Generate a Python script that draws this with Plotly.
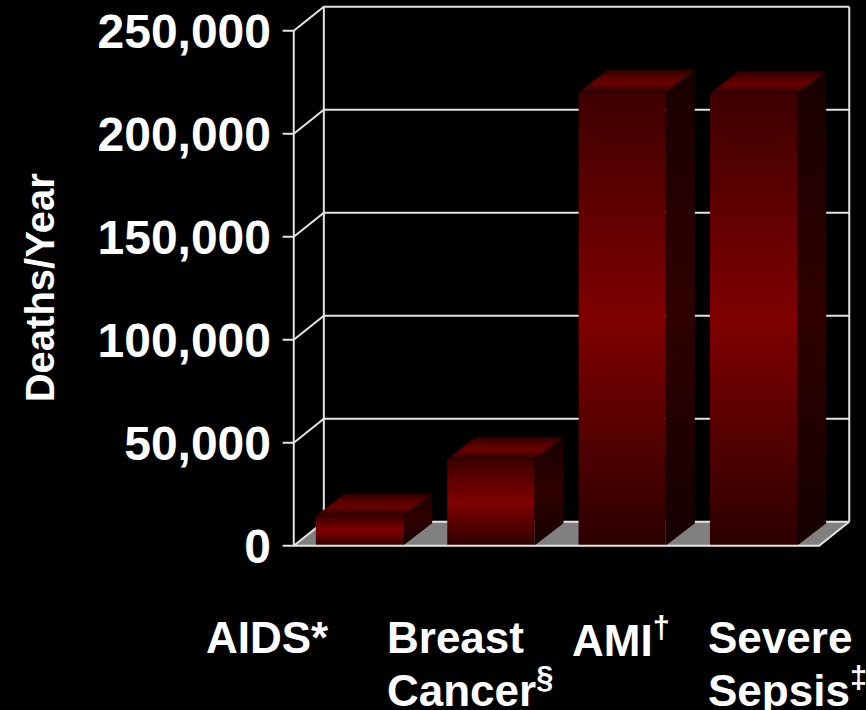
import plotly.graph_objects as go

# ---------------- data ----------------
categories = ["AIDS*", "Breast<br>Cancer<sup>§</sup>", "AMI<sup>†</sup>", "Severe<br>Sepsis<sup>‡</sup>"]
deaths_per_year = [14500, 42000, 220000, 219500]
y_ticks = [0, 50000, 100000, 150000, 200000, 250000]
y_title = "Deaths/Year"

# ---------------- style ----------------
FONT = "Arial, Liberation Sans, sans-serif"
GRID = "#e2e2e2"
FLOOR = "#808080"
WALL_DX = 0.229      # depth of the walls, in category units
WALL_DY = 11650      # depth of the walls, in value units
BAR_DX = 0.222
BAR_DY = 10900
BAR_W = 0.663
TICK_LEN = 0.085
LABEL_XSHIFT = [-155, -106, -52, -47]
LINE_STEP = 50

FRONT_CS = [[0, "#2c0000"], [0.5, "#800000"], [1, "#3e0000"]]
TOP_CS = [[0, "#2a0000"], [0.4, "#680000"], [0.65, "#5a0000"], [1, "#2c0000"]]
SIDE_CS = [[0, "#160000"], [0.5, "#300000"], [1, "#1a0000"]]

X0, X1 = -0.5, len(categories) - 0.5
YMAX = max(y_ticks)

fig = go.Figure()


def poly(xs, ys, **kw):
    fig.add_trace(go.Scatter(x=xs, y=ys, mode="lines", hoverinfo="skip",
                             showlegend=False, **kw))


# floor
poly([X0, X1, X1 + WALL_DX, X0 + WALL_DX, X0], [0, 0, WALL_DY, WALL_DY, 0],
     fill="toself", fillcolor=FLOOR, line=dict(width=0, color="rgba(0,0,0,0)"))

# gridlines: tick + left wall diagonal + back wall line
for v in y_ticks:
    poly([X0 - TICK_LEN, X0, X0 + WALL_DX, X1 + WALL_DX],
         [v, v, v + WALL_DY, v + WALL_DY], line=dict(color=GRID, width=2))

# back wall verticals
poly([X0 + WALL_DX, X0 + WALL_DX], [WALL_DY, YMAX + WALL_DY], line=dict(color=GRID, width=2))
poly([X1 + WALL_DX, X1 + WALL_DX], [WALL_DY, YMAX + WALL_DY], line=dict(color=GRID, width=2))
# front value axis
poly([X0, X0], [0, YMAX], line=dict(color=GRID, width=2))

# bars
for i, v in enumerate(deaths_per_year):
    xl, xr = i - BAR_W / 2, i + BAR_W / 2
    nofill_line = dict(width=0, color="rgba(0,0,0,0)")
    # side
    poly([xr, xr + BAR_DX, xr + BAR_DX, xr, xr], [0, BAR_DY, v + BAR_DY, v, 0],
         fill="toself", fillcolor="#220000", line=nofill_line,
         fillgradient=dict(type="vertical", colorscale=SIDE_CS, start=0, stop=v + BAR_DY))
    # top
    poly([xl, xr, xr + BAR_DX, xl + BAR_DX, xl], [v, v, v + BAR_DY, v + BAR_DY, v],
         fill="toself", fillcolor="#500000", line=nofill_line,
         fillgradient=dict(type="vertical", colorscale=TOP_CS, start=v, stop=v + BAR_DY))
    # front
    poly([xl, xr, xr, xl, xl], [0, 0, v, v, 0],
         fill="toself", fillcolor="#600000", line=nofill_line,
         fillgradient=dict(type="vertical", colorscale=FRONT_CS, start=0, stop=v))

# floor front and right edges
poly([X0, X1, X1 + WALL_DX], [0, 0, WALL_DY], line=dict(color=GRID, width=2))

# category labels
annotations = []
for i, lab in enumerate(categories):
    for k, line in enumerate(lab.split("<br>")):
        annotations.append(dict(
            x=i, y=0, xref="x", yref="y", text=line, showarrow=False,
            xanchor="left", yanchor="middle", xshift=LABEL_XSHIFT[i],
            yshift=-92 - k * LINE_STEP,
            font=dict(family=FONT, size=44, color="white", weight="bold")))

annotations.append(dict(
    x=-0.4146, y=YMAX / 2, xref="paper", yref="y", text=y_title, showarrow=False,
    textangle=-90, xanchor="center", yanchor="middle",
    font=dict(family=FONT, size=40, color="white", weight="bold")))

fig.update_layout(
    width=866, height=710,
    margin=dict(l=278, r=14, t=5, b=158),
    paper_bgcolor="black", plot_bgcolor="black",
    showlegend=False, hovermode=False,
    xaxis=dict(range=[-0.62, 3.75], visible=False, fixedrange=True),
    yaxis=dict(range=[-3000, 262500], tickvals=y_ticks, tickformat=",d",
               ticks="", showgrid=False, zeroline=False, showline=False,
               ticklabelstandoff=6, fixedrange=True,
               tickfont=dict(family=FONT, size=48, color="white", weight="bold")),
    annotations=annotations,
)

fig.write_html(
    "out.html",
    config={"displayModeBar": False},
    post_script="document.body.style.margin='0';document.body.style.background='black';"
                "document.documentElement.style.overflow='hidden';",
)
